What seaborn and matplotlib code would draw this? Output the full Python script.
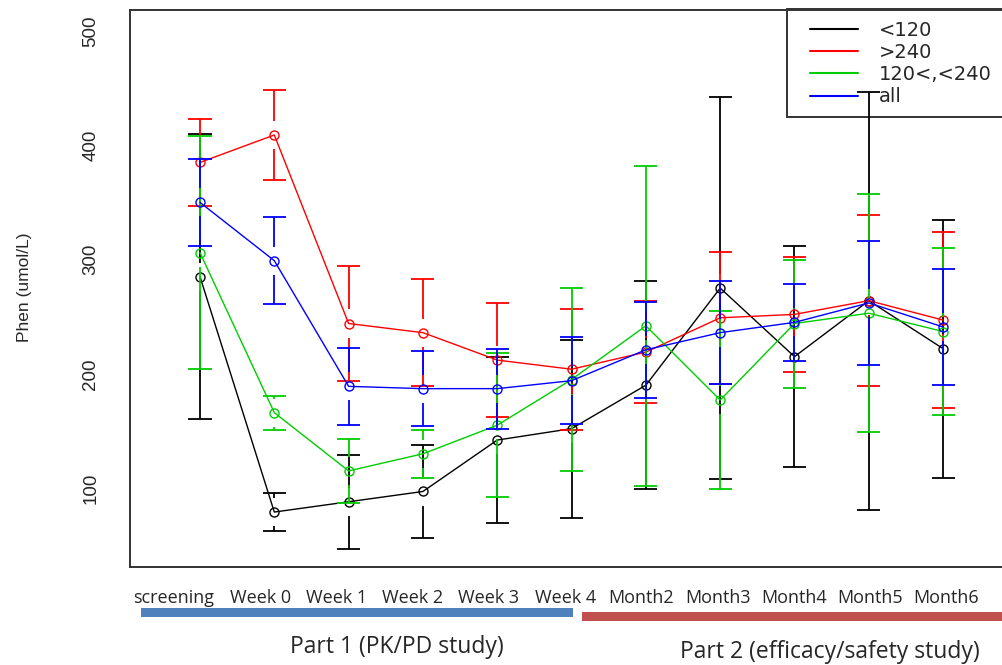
import matplotlib
matplotlib.use("Agg")
import matplotlib.pyplot as plt
import matplotlib.transforms as mtransforms
from matplotlib.lines import Line2D
from matplotlib.patches import Rectangle
import pandas as pd
import seaborn as sns

# time points
visits = ['screening', 'Week 0', 'Week 1', 'Week 2', 'Week 3', 'Week 4',
          'Month2', 'Month3', 'Month4', 'Month5', 'Month6']

# mean Phe (umol/L) and error half-width per group
low_mean = [285, 79, 88, 97, 142, 152, 190, 275, 215, 264, 222]
low_err = [125, 17, 41, 41, 73, 78, 91, 167, 97, 183, 113]
high_mean = [385, 409, 244, 236, 212, 204, 219, 249, 252, 264, 247]
high_err = [38, 39, 50, 47, 50, 53, 45, 58, 50, 75, 77]
mid_mean = [306, 166, 115, 130, 155, 195, 242, 177, 244, 253, 237]
mid_err = [102, 15, 28, 21, 63, 80, 140, 78, 56, 104, 73]
all_mean = [350, 299, 189, 187, 187, 194, 221, 236, 245, 262, 241]
all_err = [38, 38, 34, 33, 35, 38, 42, 45, 34, 54, 51]

groups = ['<120', '>240', '120<,<240', 'all']
colors = {'<120': 'black', '>240': '#FF0000', '120<,<240': '#00CD00', 'all': '#0000FF'}

rows = []
for g, m, e in zip(groups, [low_mean, high_mean, mid_mean, all_mean],
                   [low_err, high_err, mid_err, all_err]):
    for i, (mv, ev) in enumerate(zip(m, e)):
        rows.append({'group': g, 'pos': i, 'visit': visits[i], 'phen': mv, 'err': ev})
df = pd.DataFrame(rows)

sns.set_style('white')
plt.rcParams['font.family'] = ['Liberation Sans', 'DejaVu Sans']

W, H = 1003, 665
fig = plt.figure(figsize=(W / 100, H / 100), dpi=100)
ax = fig.add_axes([130 / W, 1 - 567 / H, 880 / W, 557 / H])

gap = 12.3      # gap around the point, data units (like gplots plotCI)
cap = 0.155     # half cap width, x units

for g in groups:
    d = df[df['group'] == g]
    c = colors[g]
    up_lo = d['phen'] + gap
    up_hi = d['phen'] + d['err']
    dn_lo = d['phen'] - d['err']
    dn_hi = d['phen'] - gap
    ok = d['err'] > gap
    ax.vlines(d['pos'][ok], up_lo[ok], up_hi[ok], color=c, lw=1.3, zorder=3)
    ax.vlines(d['pos'][ok], dn_lo[ok], dn_hi[ok], color=c, lw=1.3, zorder=3)
    ax.hlines(up_hi, d['pos'] - cap, d['pos'] + cap, color=c, lw=1.3, zorder=3)
    ax.hlines(dn_lo, d['pos'] - cap, d['pos'] + cap, color=c, lw=1.3, zorder=3)
    sns.lineplot(data=d, x='pos', y='phen', ax=ax, color=c, lw=1.0,
                 marker='o', markersize=6.5, markerfacecolor='none',
                 markeredgecolor=c, markeredgewidth=1.0, errorbar=None, zorder=3)

ax.set_xlim(-0.942, 10.90)
ax.set_ylim(30.9, 518.4)
ax.set_xticks(range(len(visits)))
ax.set_xticklabels(visits, family=['Open Sans', 'DejaVu Sans'], fontsize=13)
ax.set_yticks([100, 200, 300, 400, 500])
ax.set_yticklabels(['100', '200', '300', '400', '500'], rotation=90,
                   va='center', fontsize=13.5)
ax.set_xlabel('')
ax.set_ylabel('')
ax.tick_params(axis='x', length=5, width=1.2, color='#333333', pad=11)
ax.tick_params(axis='y', length=11, width=1.2, color='#333333', pad=11)
for s in ['left', 'bottom', 'top']:
    ax.spines[s].set_color('#333333')
    ax.spines[s].set_linewidth(1.4)
ax.spines['right'].set_visible(False)

# the visit labels sit a little left of their ticks in the original
for i, lab in enumerate(ax.get_xticklabels()):
    shift = -26 if i == 0 else -14 + 1.9 * (i - 1)
    lab.set_transform(lab.get_transform() +
                      mtransforms.ScaledTranslation(shift / 100, 0, fig.dpi_scale_trans))

# legend under the data: frame drawn separately so the entries sit inset
frame = Rectangle((787 / W, 1 - 117 / H), 230 / W, 108 / H,
                  transform=fig.transFigure, facecolor='white',
                  edgecolor='#333333', lw=1.4, zorder=1, clip_on=False)
ax.add_patch(frame)
handles = [Line2D([], [], color=colors[g], lw=1.5) for g in groups]
leg = ax.legend(handles, groups, loc='upper left',
                bbox_to_anchor=(810 / W, 1 - 21 / H), bbox_transform=fig.transFigure,
                borderaxespad=0, frameon=False,
                prop={'family': 'DejaVu Sans', 'size': 14},
                handlelength=2.45, handletextpad=1.1, labelspacing=0.16,
                borderpad=0.0)
leg.set_zorder(2)

fig.text(25 / W, 1 - 287 / H, 'Phen (umol/L)', rotation=90, ha='center',
         va='center', fontsize=12.5)

# study part bars and captions
fig.add_artist(Rectangle((140.7 / W, 1 - 617 / H), 432 / W, 9 / H,
                         transform=fig.transFigure, color='#4F81BD', lw=0))
fig.add_artist(Rectangle((581.7 / W, 1 - 620.7 / H), 425 / W, 9 / H,
                         transform=fig.transFigure, color='#C0504D', lw=0))
fig.text(397 / W, 1 - 647 / H, 'Part 1 (PK/PD study)', ha='center', va='center',
         family=['Open Sans', 'DejaVu Sans'], fontsize=16.5)
fig.text(830 / W, 1 - 652 / H, 'Part 2 (efficacy/safety study)', ha='center',
         va='center', family=['Open Sans', 'DejaVu Sans'], fontsize=16.5)

fig.savefig('out.png', dpi=100)
